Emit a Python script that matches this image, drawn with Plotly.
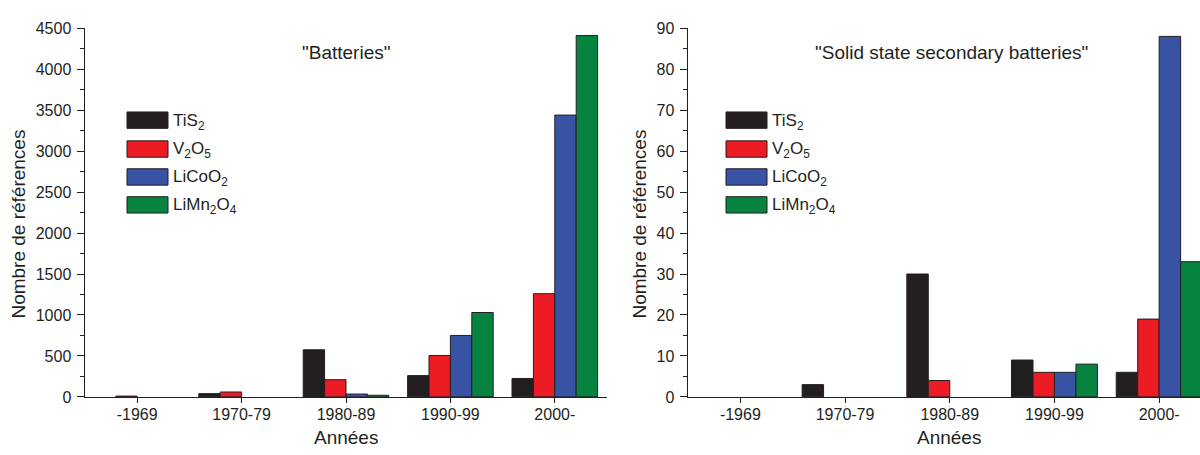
import plotly.graph_objects as go

# ---------------- data ----------------
periods = ["-1969", "1970-79", "1980-89", "1990-99", "2000-"]
series_names = ["TiS<sub>2</sub>", "V<sub>2</sub>O<sub>5</sub>", "LiCoO<sub>2</sub>", "LiMn<sub>2</sub>O<sub>4</sub>"]

# "Batteries"
bat_TiS2 = [0, 40, 575, 260, 225]
bat_V2O5 = [10, 60, 210, 505, 1260]
bat_LiCoO2 = [0, 0, 35, 750, 3440]
bat_LiMn2O4 = [0, 0, 20, 1030, 4410]

# "Solid state secondary batteries"
ss_TiS2 = [0, 3, 30, 9, 6]
ss_V2O5 = [0, 0, 4, 6, 19]
ss_LiCoO2 = [0, 0, 0, 6, 88]
ss_LiMn2O4 = [0, 0, 0, 8, 33]

left_title = '"Batteries"'
right_title = '"Solid state secondary batteries"'
x_title = "Années"
y_title = "Nombre de références"

# ---------------- style ----------------
W, H = 1200, 455
colors = ["#231F20", "#ED1C24", "#3953A4", "#06843F"]
EDGE = "#231F20"
INK = "#231F20"
FONT = "Liberation Sans, Arial, sans-serif"


def px(x):
    return x / W


def py(y):
    return 1 - y / H


left_dom = [px(85), px(607)]
right_dom = [px(688), 1.0]
y_dom = [py(404), py(21)]

fig = go.Figure()

bat = [bat_TiS2, bat_V2O5, bat_LiCoO2, bat_LiMn2O4]
ss = [ss_TiS2, ss_V2O5, ss_LiCoO2, ss_LiMn2O4]


def edge_widths(vals):
    return [0 if v == 0 else 1 for v in vals]


for vals, name, c in zip(bat, series_names, colors):
    fig.add_trace(go.Bar(x=periods, y=vals, name=name, xaxis="x", yaxis="y",
                         marker=dict(color=c, line=dict(color=EDGE, width=edge_widths(vals))),
                         showlegend=False))
for vals, name, c in zip(ss, series_names, colors):
    fig.add_trace(go.Bar(x=periods, y=vals, name=name, xaxis="x2", yaxis="y2",
                         marker=dict(color=c, line=dict(color=EDGE, width=edge_widths(vals))),
                         showlegend=False))

common_x = dict(type="category", categoryorder="array", categoryarray=periods,
                showline=True, linecolor=INK, linewidth=1.5, ticks="outside",
                ticklen=5, tickcolor=INK, tickwidth=1, showgrid=False,
                zeroline=False, tickfont=dict(size=16, color=INK, family=FONT),
                ticklabelstandoff=-3)
common_y = dict(showline=True, linecolor=INK, linewidth=1.5, ticks="outside",
                ticklen=7, tickcolor=INK, tickwidth=1, showgrid=False,
                zeroline=False, tickfont=dict(size=16, color=INK, family=FONT),
                ticklabelstandoff=2)

top_x = dict(type="linear", side="top", showline=True, linecolor=INK, linewidth=1.5,
             ticks="inside", ticklen=5, tickcolor=INK, tickvals=[0, 1, 2, 3, 4],
             showticklabels=False, showgrid=False, zeroline=False)

fig.update_layout(
    width=W, height=H, autosize=False,
    margin=dict(l=0, r=0, t=0, b=0),
    paper_bgcolor="white", plot_bgcolor="white",
    font=dict(family=FONT, color=INK),
    barmode="group", bargap=0.18, bargroupgap=0,
    xaxis=dict(domain=left_dom, anchor="y", range=[-0.5, 4.5], **common_x),
    yaxis=dict(domain=y_dom, anchor="x", range=[0, 4500], dtick=500,
               minor=dict(dtick=250, ticks="outside", ticklen=4, tickcolor=INK),
               **common_y),
    xaxis2=dict(domain=right_dom, anchor="y2", range=[-0.5, 4.39], **common_x),
    yaxis2=dict(domain=y_dom, anchor="x2", range=[0, 90], dtick=10,
                minor=dict(dtick=5, ticks="outside", ticklen=4, tickcolor=INK),
                **common_y),
    xaxis3=dict(overlaying="x", anchor="y", range=[-0.5, 4.5], **top_x),
    xaxis4=dict(overlaying="x2", anchor="y2", range=[-0.5, 4.39], **top_x),
    yaxis3=dict(overlaying="y", anchor="x", side="right", range=[0, 4500],
                tickvals=list(range(0, 4501, 500)), ticks="inside", ticklen=6,
                tickcolor=INK, showticklabels=False, showline=True, linecolor=INK,
                linewidth=1.5, showgrid=False, zeroline=False,
                minor=dict(tickvals=list(range(250, 4500, 500)), ticks="inside",
                           ticklen=3, tickcolor=INK)),
)

annotations = []
shapes = []

# chart titles
annotations.append(dict(text=left_title, x=px(346), y=py(46), xref="paper", yref="paper",
                        showarrow=False, xanchor="center", yanchor="middle",
                        font=dict(size=19, color=INK, family=FONT)))
annotations.append(dict(text=right_title, x=px(951), y=py(46), xref="paper", yref="paper",
                        showarrow=False, xanchor="center", yanchor="middle",
                        font=dict(size=19, color=INK, family=FONT)))
# axis titles
for cx in (346, 949):
    annotations.append(dict(text=x_title, x=px(cx), y=py(446), xref="paper", yref="paper",
                            showarrow=False, xanchor="center", yanchor="middle",
                            font=dict(size=19, color=INK, family=FONT)))
for cx in (19, 640):
    annotations.append(dict(text=y_title, x=px(cx), y=py(225), xref="paper", yref="paper",
                            showarrow=False, xanchor="center", yanchor="middle",
                            textangle=-90, font=dict(size=19, color=INK, family=FONT)))

# custom legends (large swatches)
row_tops = [108, 138, 167, 196]
for x0 in (127, 726):
    for top, name, c in zip(row_tops, series_names, colors):
        shapes.append(dict(type="rect", xref="paper", yref="paper",
                           x0=px(x0), x1=px(x0 + 41), y0=py(top + 17), y1=py(top),
                           fillcolor=c, line=dict(color=EDGE, width=1)))
        annotations.append(dict(text=name, x=px(x0 + 44), y=py(top + 10), xref="paper",
                                yref="paper", showarrow=False, xanchor="left",
                                yanchor="middle",
                                font=dict(size=17, color=INK, family=FONT)))

fig.update_layout(annotations=annotations, shapes=shapes)

fig.write_html("out.html",
               config={"displayModeBar": False, "staticPlot": True},
               post_script="document.body.style.margin='0';document.body.style.padding='0';")
